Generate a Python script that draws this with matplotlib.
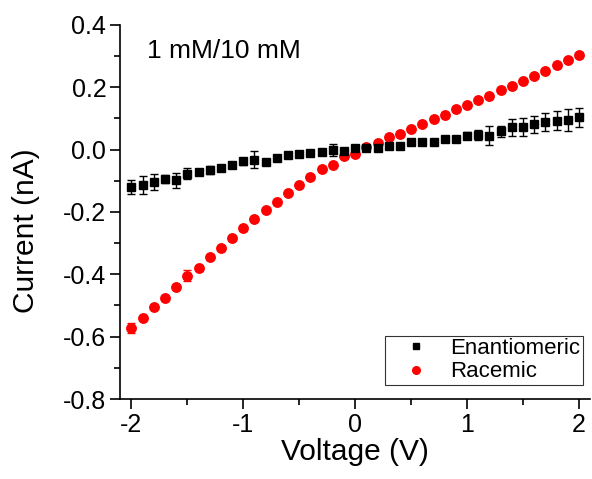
import matplotlib
matplotlib.use('Agg')
import matplotlib.pyplot as plt
import numpy as np
from matplotlib.ticker import MultipleLocator
from matplotlib.lines import Line2D

plt.rcParams['font.family'] = ['Liberation Sans', 'DejaVu Sans']

voltage = [-2.0, -1.9, -1.8, -1.7, -1.6, -1.5, -1.4, -1.3, -1.2, -1.1, -1.0,
           -0.9, -0.8, -0.7, -0.6, -0.5, -0.4, -0.3, -0.2, -0.1, 0.0,
           0.1, 0.2, 0.3, 0.4, 0.5, 0.6, 0.7, 0.8, 0.9, 1.0,
           1.1, 1.2, 1.3, 1.4, 1.5, 1.6, 1.7, 1.8, 1.9, 2.0]

enant = [-0.119, -0.113, -0.104, -0.094, -0.099, -0.077, -0.071, -0.065, -0.058, -0.050, -0.038,
         -0.033, -0.040, -0.027, -0.016, -0.015, -0.012, -0.008, -0.001, -0.004, 0.004,
         0.006, 0.006, 0.011, 0.011, 0.026, 0.024, 0.026, 0.034, 0.034, 0.045,
         0.047, 0.045, 0.059, 0.071, 0.073, 0.081, 0.089, 0.093, 0.095, 0.103]
enant_err = [0.023, 0.028, 0.026, 0.013, 0.024, 0.018, 0.008, 0.014, 0.008, 0.008, 0.010,
             0.027, 0.010, 0.006, 0.006, 0.006, 0.006, 0.006, 0.020, 0.006, 0.006,
             0.008, 0.008, 0.006, 0.006, 0.008, 0.006, 0.006, 0.008, 0.008, 0.012,
             0.015, 0.030, 0.018, 0.026, 0.029, 0.028, 0.028, 0.031, 0.036, 0.032]

racemic = [-0.573, -0.539, -0.505, -0.475, -0.441, -0.405, -0.379, -0.345, -0.316, -0.284, -0.252,
           -0.223, -0.193, -0.167, -0.138, -0.115, -0.087, -0.063, -0.049, -0.020, -0.015,
           0.008, 0.020, 0.039, 0.050, 0.067, 0.082, 0.098, 0.112, 0.130, 0.143,
           0.158, 0.172, 0.191, 0.204, 0.221, 0.236, 0.253, 0.272, 0.288, 0.304]
racemic_err = [0.016, 0.006, 0.006, 0.006, 0.006, 0.018, 0.006, 0.006, 0.006, 0.006, 0.006,
               0.006, 0.006, 0.006, 0.006, 0.006, 0.006, 0.006, 0.006, 0.006, 0.006,
               0.006, 0.006, 0.006, 0.006, 0.006, 0.006, 0.006, 0.006, 0.006, 0.006,
               0.006, 0.006, 0.006, 0.006, 0.006, 0.006, 0.006, 0.006, 0.006, 0.006]

fig = plt.figure(figsize=(5.92, 4.79), dpi=100)
ax = fig.add_axes([0.203, 0.167, 0.794, 0.781])

ax.errorbar(voltage, racemic, yerr=racemic_err, fmt='o', color='#ff0000', ms=6.8,
            ecolor='#ff0000', elinewidth=1, capsize=3, zorder=2)
ax.errorbar(voltage, enant, yerr=enant_err, fmt='s', color='black', ms=6,
            ecolor='black', elinewidth=1, capsize=3, zorder=3)

ax.set_xlim(-2.1, 2.1)
ax.set_ylim(-0.8, 0.4)
ax.xaxis.set_major_locator(MultipleLocator(1))
ax.xaxis.set_minor_locator(MultipleLocator(0.5))
ax.yaxis.set_major_locator(MultipleLocator(0.2))
ax.yaxis.set_minor_locator(MultipleLocator(0.1))
ax.xaxis.set_major_formatter(plt.FuncFormatter(lambda v, p: f'{v:.0f}'))
ax.yaxis.set_major_formatter(plt.FuncFormatter(lambda v, p: f'{v:.1f}'))

ax.spines['top'].set_visible(False)
ax.spines['right'].set_visible(False)
ax.spines['left'].set_linewidth(1.2)
ax.spines['bottom'].set_linewidth(1.2)
ax.tick_params(which='major', direction='out', length=7, width=1.2, labelsize=18, pad=3)
ax.tick_params(which='minor', direction='out', length=4, width=1.2)

ax.set_xlabel('Voltage (V)', fontsize=21.5, labelpad=1)
ax.set_ylabel('Current (nA)', fontsize=21.5)
ax.yaxis.set_label_coords(-0.17, 0.45)

ax.text(0.057, 0.93, '1 mM/10 mM', transform=ax.transAxes, fontsize=19, va='center')

handles = [Line2D([], [], ls='none', marker='s', color='black', ms=5),
           Line2D([], [], ls='none', marker='o', color='#ff0000', ms=5.5)]
leg = ax.legend(handles, ['Enantiomeric', 'Racemic'], loc='lower right',
                bbox_to_anchor=(0.985, 0.037), fontsize=16, frameon=True, fancybox=False,
                edgecolor='black', handletextpad=0.3, borderpad=0.12, labelspacing=0.1,
                handlelength=2.5, borderaxespad=0)
leg.get_frame().set_linewidth(0.8)

fig.savefig('out.png', dpi=100)
